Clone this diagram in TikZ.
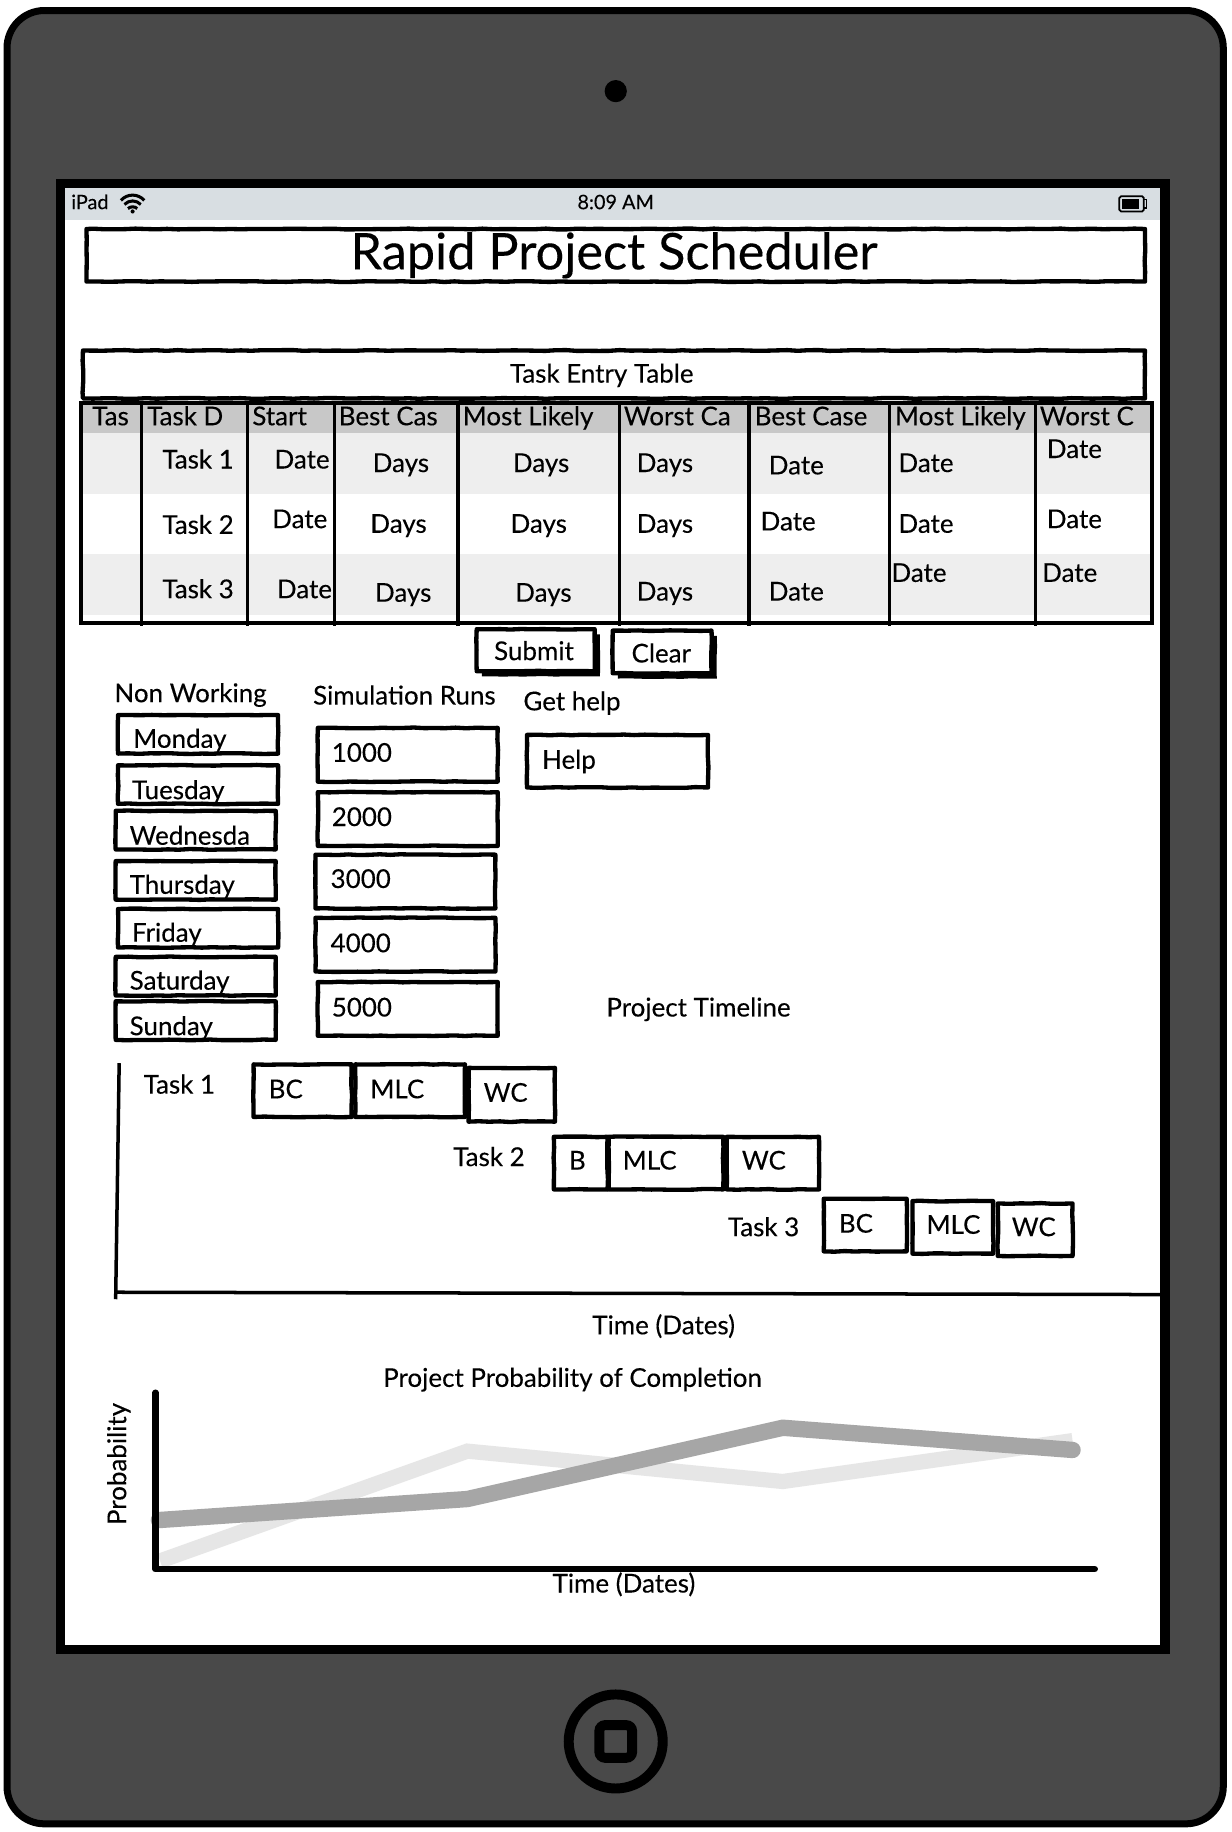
\documentclass[tikz,border=0pt]{standalone}
\usepackage{fontspec}
\setmainfont{Lato}
\newfontfamily\sketchfont[FakeBold=0.2]{Lato}
\usetikzlibrary{shadows,decorations.pathmorphing}
\definecolor{shellgray}{HTML}{494949}
\definecolor{barblue}{HTML}{D8DEE2}
\definecolor{headgray}{HTML}{C8C8C8}
\definecolor{rowgray}{HTML}{EEEEEE}
\definecolor{lightline}{HTML}{E6E6E6}
\definecolor{darkline}{HTML}{A6A6A6}
\tikzset{
  sketchbox/.style={draw=black,line width=3.7pt,line join=round,fill=white,inner sep=0pt,outer sep=0pt,
    decorate,decoration={random steps,segment length=9pt,amplitude=.35pt}},
  pressbox/.style={sketchbox,drop shadow={shadow xshift=4.5pt,shadow yshift=-4.5pt,fill=black,opacity=1}},
  rowband/.style={inner sep=0pt,outer sep=0pt,minimum width=915pt},
  uitext/.style={inner sep=0pt,outer sep=0pt,text height=16pt,text depth=0pt,font=\sketchfont\fontsize{22.2}{25}\selectfont},
  lefttext/.style={uitext,anchor=west},
  smalltext/.style={inner sep=0pt,outer sep=0pt,text height=12pt,text depth=0pt,font=\sketchfont\fontsize{17}{19}\selectfont},
  gridline/.style={line width=2.8pt},
  axisline/.style={line width=3pt},
  chartaxis/.style={line width=5.5pt,line cap=round,line join=round},
}
\pgfmathsetseed{7}
\begin{document}
\begin{tikzpicture}[x=1pt,y=-1pt]
    \useasboundingbox (0,0) rectangle (1054.45,1568);
    \fill[white] (0,0) rectangle (1054.45,1568);

    \draw[fill=shellgray,line width=6pt,rounded corners=32pt] (6,9) rectangle (1047,1561);
    \draw[fill=white,line width=8pt] (52,157) rectangle (997,1412);
    \node[fill=barblue,inner sep=0pt,outer sep=0pt,minimum width=937pt,minimum height=27pt] (statusbar) at (524.5,174.5){};
    \node[circle,fill=black,inner sep=0pt,minimum size=19pt] (camera) at (527,78){};
    \node[circle,draw=black,line width=8.5pt,inner sep=0pt,outer sep=0pt,minimum size=80.5pt] (homering) at (527,1490.5){};
    \node[draw=black,line width=8.5pt,rounded corners=5pt,inner sep=0pt,outer sep=0pt,minimum size=28pt] (homekey) at (527,1490.5){};

    \node[smalltext,anchor=west] (ipad) at (61,173){iPad};
    \node[smalltext] (clock) at (527,173){8:09 AM};
    \draw[line width=2.6pt] (103.5,171.5) .. controls (109,165.5) and (118,165.5) .. (123.5,171.5);
    \draw[line width=2.6pt] (106.5,175) .. controls (110.5,171) and (116.5,171) .. (120.5,175);
    \draw[line width=2.6pt] (109.5,178.5) .. controls (112,176.5) and (115,176.5) .. (117.5,178.5);
    \node[circle,fill=black,inner sep=0pt,minimum size=3.5pt] (wifidot) at (113.5,181){};
    \node[draw=black,line width=1.5pt,rounded corners=1.5pt,inner sep=0pt,outer sep=0pt,minimum width=21pt,minimum height=13pt] (battery) at (968.5,174.5){};
    \fill (960.5,170.3) rectangle (974.5,178.7);
    \draw[line width=1.2pt] (979.5,171) -- (981.5,171) -- (981.5,178) -- (979.5,178);

    \node[sketchbox,minimum width=906pt,minimum height=45pt] (titlebox) at (527,218.5){};
    \node[inner sep=0pt,text height=32pt,text depth=0pt,font=\sketchfont\fontsize{43.2}{47}\selectfont] (title) at (525.5,214.5){Rapid Project Scheduler};
    \node[sketchbox,minimum width=909pt,minimum height=41pt] (entrybox) at (525.5,320.5){};
    \node[uitext] (entrytitle) at (515,319.5){Task Entry Table};

    \node[rowband,fill=headgray,minimum height=26pt] (headrow) at (527.5,358){};
    \node[rowband,fill=rowgray,minimum height=52pt] (rowone) at (527.5,397){};
    \node[rowband,fill=rowgray,minimum height=52pt] (rowthree) at (527.5,500){};
    \node[draw=black,line width=3.4pt,inner sep=0pt,outer sep=0pt,minimum width=917pt,minimum height=188pt] (tableframe) at (527.5,439){};
    \draw[gridline] (121,344) -- (121,536);
    \draw[gridline] (212,344) -- (212,536);
    \draw[gridline] (286,344) -- (286,536);
    \draw[gridline] (392,344) -- (392,536);
    \draw[gridline] (530,344) -- (530,536);
    \draw[gridline] (641,344) -- (641,536);
    \draw[gridline] (761,344) -- (761,536);
    \draw[gridline] (886,344) -- (886,536);

    \node[lefttext] (headtas) at (79,356){Tas};
    \node[lefttext] (headdesc) at (126,356){Task D};
    \node[lefttext] (headstart) at (216,356){Start};
    \node[lefttext] (headbestdays) at (290,356){Best Cas};
    \node[lefttext] (headlikelydays) at (396,356){Most Likely};
    \node[lefttext] (headworstdays) at (534,356){Worst Ca};
    \node[lefttext] (headbestdate) at (646,356){Best Case};
    \node[lefttext] (headlikelydate) at (766,356){Most Likely};
    \node[lefttext] (headworstdate) at (890,356){Worst C};

    \node[lefttext] (taskone) at (139,393){Task 1};
    \node[lefttext] (startone) at (235,393){Date};
    \node[lefttext] (bestone) at (319,396){Days};
    \node[lefttext] (likelyone) at (439,396){Days};
    \node[lefttext] (worstone) at (545,396){Days};
    \node[lefttext] (bestdateone) at (658,398){Date};
    \node[lefttext] (likelydateone) at (769,396){Date};
    \node[lefttext] (worstdateone) at (896,384){Date};

    \node[lefttext] (tasktwo) at (139,449){Task 2};
    \node[lefttext] (starttwo) at (233,444){Date};
    \node[lefttext] (besttwo) at (317,448){Days};
    \node[lefttext] (likelytwo) at (437,448){Days};
    \node[lefttext] (worsttwo) at (545,448){Days};
    \node[lefttext] (bestdatetwo) at (651,446){Date};
    \node[lefttext] (likelydatetwo) at (769,448){Date};
    \node[lefttext] (worstdatetwo) at (896,444){Date};

    \node[lefttext] (taskthree) at (139,504){Task 3};
    \node[lefttext] (startthree) at (237,504){Date};
    \node[lefttext] (bestthree) at (321,507){Days};
    \node[lefttext] (likelythree) at (441,507){Days};
    \node[lefttext] (worstthree) at (545,506){Days};
    \node[lefttext] (bestdatethree) at (658,506){Date};
    \node[lefttext] (likelydatethree) at (763,490){Date};
    \node[lefttext] (worstdatethree) at (892,490){Date};

    \node[pressbox,minimum width=101pt,minimum height=36pt] (submit) at (458.5,556.5){};
    \node[uitext] (submittext) at (457,557){Submit};
    \node[pressbox,minimum width=84.6pt,minimum height=36.5pt] (clear) at (566.7,558){};
    \node[uitext] (cleartext) at (566,559){Clear};

    \node[lefttext] (nonworking) at (98,593){Non Working};
    \node[lefttext] (simruns) at (268,595){Simulation Runs};
    \node[lefttext] (gethelp) at (448,600){Get help};

    \node[sketchbox,minimum width=137pt,minimum height=33pt] (monday) at (169.5,628.5){};
    \node[sketchbox,minimum width=137pt,minimum height=33pt] (tuesday) at (169.5,671.5){};
    \node[sketchbox,minimum width=137pt,minimum height=33pt] (wednesday) at (167.5,710.5){};
    \node[sketchbox,minimum width=137pt,minimum height=33pt] (thursday) at (167.5,753.5){};
    \node[sketchbox,minimum width=137pt,minimum height=33pt] (friday) at (169.5,794.5){};
    \node[sketchbox,minimum width=137pt,minimum height=33pt] (saturday) at (167.5,835.5){};
    \node[sketchbox,minimum width=137pt,minimum height=33pt] (sunday) at (167.5,873.5){};
    \node[lefttext] (mondaytext) at (114,632){Monday};
    \node[lefttext] (tuesdaytext) at (113,676){Tuesday};
    \node[lefttext] (wednesdaytext) at (111,715){Wednesda};
    \node[lefttext] (thursdaytext) at (111,757){Thursday};
    \node[lefttext] (fridaytext) at (113,798){Friday};
    \node[lefttext] (saturdaytext) at (111,839){Saturday};
    \node[lefttext] (sundaytext) at (111,878){Sunday};

    \node[sketchbox,minimum width=154pt,minimum height=46pt] (runa) at (349,646){};
    \node[sketchbox,minimum width=154pt,minimum height=46pt] (runb) at (349,701){};
    \node[sketchbox,minimum width=154pt,minimum height=46pt] (runc) at (347,754.5){};
    \node[sketchbox,minimum width=154pt,minimum height=46pt] (rund) at (347,808.5){};
    \node[sketchbox,minimum width=154pt,minimum height=46pt] (rune) at (349,863.5){};
    \node[lefttext] (runatext) at (284,644){1000};
    \node[lefttext] (runbtext) at (284,699){2000};
    \node[lefttext] (runctext) at (283,752){3000};
    \node[lefttext] (rundtext) at (283,807){4000};
    \node[lefttext] (runetext) at (284,862){5000};

    \node[sketchbox,minimum width=155pt,minimum height=45pt] (help) at (528.5,651.5){};
    \node[lefttext] (helptext) at (464,650){Help};
    \node[lefttext] (timeline) at (519,862){Project Timeline};

    \coordinate (ganttop) at (102,910);
    \coordinate (ganttbase) at (99,1112);
    \coordinate (ganttleft) at (98,1106);
    \coordinate (ganttright) at (993,1108);
    \draw[axisline] (ganttop) -- (ganttbase);
    \draw[axisline] (ganttleft) -- (ganttright);

    \node[lefttext] (ganttone) at (123,928){Task 1};
    \node[sketchbox,minimum width=84pt,minimum height=45pt] (bcone) at (259,933.5){};
    \node[sketchbox,minimum width=94pt,minimum height=45pt] (mlcone) at (351,933.5){};
    \node[sketchbox,minimum width=74pt,minimum height=46pt] (wcone) at (438,937){};
    \node[lefttext] (bconetext) at (230,932){BC};
    \node[lefttext] (mlconetext) at (317,932){MLC};
    \node[lefttext] (wconetext) at (414,935){WC};

    \node[lefttext] (gantttwo) at (388,990){Task 2};
    \node[sketchbox,minimum width=46pt,minimum height=45pt] (bctwo) at (497,995.5){};
    \node[sketchbox,minimum width=98pt,minimum height=45pt] (mlctwo) at (570,995.5){};
    \node[sketchbox,minimum width=79pt,minimum height=45pt] (wctwo) at (661.5,995.5){};
    \node[lefttext] (bctwotext) at (487,993){B};
    \begin{scope}
      \clip (476,975) rectangle (518,1019);
      \node[lefttext] (bctwotail) at (487,1024){C};
    \end{scope}
    \node[lefttext] (mlctwotext) at (533,993){MLC};
    \node[lefttext] (wctwotext) at (635,993){WC};

    \node[lefttext] (ganttthree) at (623,1050){Task 3};
    \node[sketchbox,minimum width=71pt,minimum height=45pt] (bcthree) at (740.5,1048.5){};
    \node[sketchbox,minimum width=69pt,minimum height=45pt] (mlcthree) at (815.5,1050.5){};
    \node[sketchbox,minimum width=64pt,minimum height=45pt] (wcthree) at (886,1052.5){};
    \node[lefttext] (bcthreetext) at (718,1047){BC};
    \node[lefttext] (mlcthreetext) at (793,1048){MLC};
    \node[lefttext] (wcthreetext) at (866,1050){WC};

    \node[uitext] (ganttaxis) at (568,1134){Time (Dates)};
    \node[uitext] (charttitle) at (490,1179){Project Probability of Completion};

    \coordinate (chartop) at (133,1192);
    \coordinate (chartorigin) at (133,1343);
    \coordinate (chartend) at (937,1343);
    \draw[line width=13pt,color=lightline] (137,1336) -- (400,1242) -- (670,1268) -- (918,1233);
    \draw[line width=14pt,color=darkline,line cap=round] (136,1301) -- (400,1283) -- (670,1222) -- (918,1241);
    \draw[chartaxis] (chartop) -- (chartorigin) -- (chartend);
    \node[uitext] (chartaxistext) at (534,1355){Time (Dates)};
    \node[uitext,rotate=90] (probability) at (100,1253){Probability};
\end{tikzpicture}
\end{document}
